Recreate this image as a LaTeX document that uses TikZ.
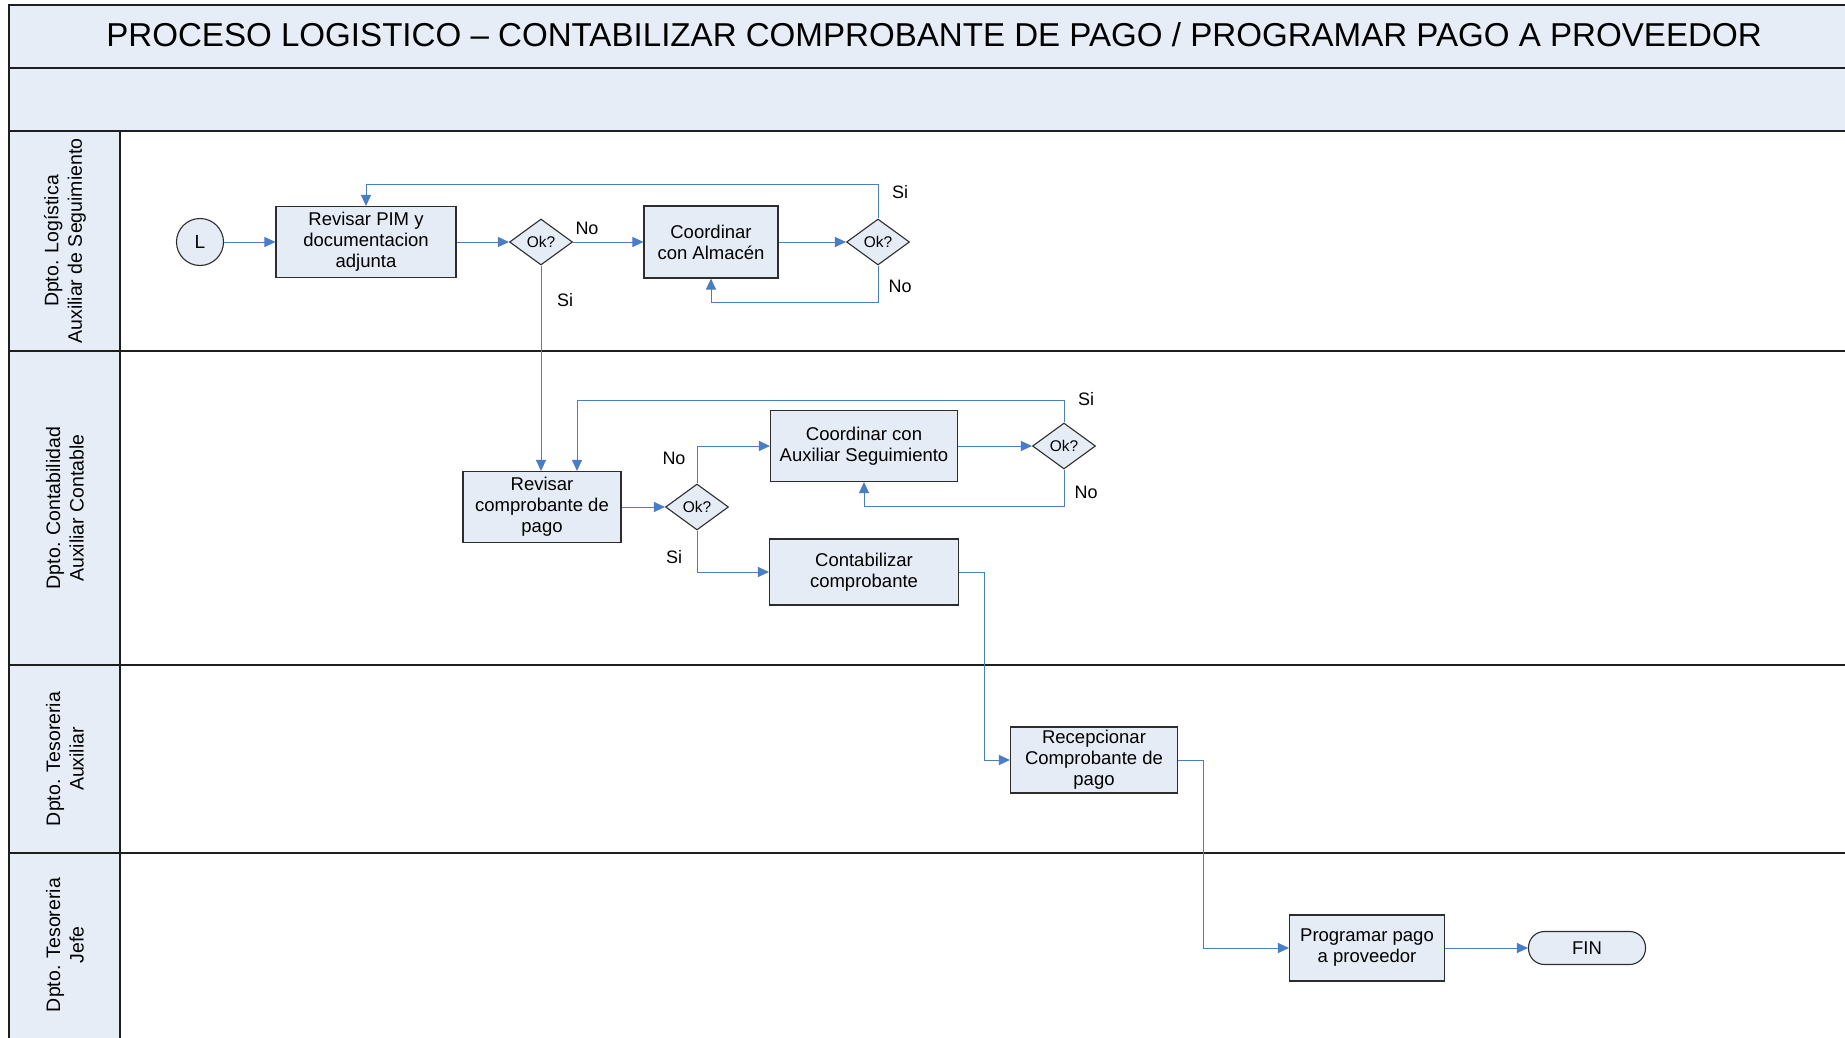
\documentclass[tikz,border=0pt]{standalone}
\usepackage{fontspec}
\setmainfont{Liberation Sans}
\usetikzlibrary{shapes.geometric,arrows.meta}

\definecolor{bandfill}{RGB}{230,237,247}
\definecolor{boxfill}{RGB}{230,236,246}
\definecolor{flowblue}{RGB}{74,126,196}
\definecolor{framegray}{RGB}{30,30,30}
\definecolor{boxline}{RGB}{45,45,45}

\tikzset{
  frameline/.style={draw=framegray, line width=1.4pt},
  stepbox/.style={rectangle, draw=boxline, line width=1.1pt, fill=boxfill,
    align=center, inner sep=2pt, font=\fontsize{18.5}{21}\selectfont},
  decision/.style={diamond, draw=boxline, line width=1.1pt, fill=boxfill,
    minimum width=63pt, minimum height=46pt, inner sep=0pt,
    font=\fontsize{15.5}{18}\selectfont},
  startcircle/.style={circle, draw=boxline, line width=1.1pt, fill=boxfill,
    minimum size=47pt, inner sep=0pt, font=\fontsize{19}{22}\selectfont},
  endcap/.style={rectangle, rounded corners=16pt, draw=boxline, line width=1.1pt,
    fill=boxfill, minimum width=117pt, minimum height=33pt, inner sep=0pt,
    font=\fontsize{18.5}{21}\selectfont},
  flow/.style={draw=flowblue, line width=1.0pt,
    -{Triangle[length=11pt,width=10pt]}},
  answer/.style={font=\fontsize{18}{21}\selectfont, inner sep=0pt},
  lanetitle/.style={rotate=90, align=center, inner sep=0pt,
    font=\fontsize{19.5}{23.5}\selectfont},
}

\begin{document}
\begin{tikzpicture}[x=1pt,y=-1pt]
\useasboundingbox (0,0) rectangle (1845,1038);

% header bands and lane title column
\fill[bandfill] (9,5) rectangle (1845,131);
\fill[bandfill] (9,131) rectangle (120,1038);
\draw[frameline] (1845,5) -- (9,5) -- (9,1038);
\foreach \yy in {68,131,351,665,853}
  \draw[frameline] (9,\yy) -- (1845,\yy);
\draw[frameline] (120,131) -- (120,1038);

\node[font=\fontsize{33.1}{38}\selectfont] (title) at (934,35)
  {PROCESO LOGISTICO – CONTABILIZAR COMPROBANTE DE PAGO / PROGRAMAR PAGO A PROVEEDOR};

% lane titles
\node[lanetitle] (lane1) at (65,241) {Dpto. Logística\\Auxiliar de Seguimiento};
\node[lanetitle] (lane2) at (65,508) {Dpto. Contabilidad\\Auxiliar Contable};
\node[lanetitle] (lane3) at (65,759) {Dpto. Tesoreria\\Auxiliar};
\node[lanetitle] (lane4) at (65,945) {Dpto. Tesoreria\\Jefe};

% lane 1: logistics
\node[startcircle] (start) at (200,242) {L};
\node[stepbox, minimum width=180pt, minimum height=71pt] (pim) at (366,242)
  {Revisar PIM y\\documentacion\\adjunta};
\node[decision] (d1) at (541,242) {Ok?};
\node[stepbox, minimum width=134pt, minimum height=72pt] (alm) at (711,242)
  {Coordinar\\con Almacén};
\node[decision] (d2) at (878,242) {Ok?};

% lane 2: accounting
\node[stepbox, minimum width=158pt, minimum height=71pt] (revc) at (542,507)
  {Revisar\\comprobante de\\pago};
\node[decision] (d3) at (697,507) {Ok?};
\node[stepbox, minimum width=187pt, minimum height=71pt] (cax) at (864,446)
  {Coordinar con\\Auxiliar Seguimiento};
\node[decision] (d4) at (1064,446) {Ok?};
\node[stepbox, minimum width=189pt, minimum height=66pt] (cont) at (864,572)
  {Contabilizar\\comprobante};

% lane 3: treasury assistant
\node[stepbox, minimum width=167pt, minimum height=66pt] (rec) at (1094,760)
  {Recepcionar\\Comprobante de\\pago};

% lane 4: treasury head
\node[stepbox, minimum width=155pt, minimum height=66pt] (prog) at (1367,948)
  {Programar pago\\a proveedor};
\node[endcap] (fin) at (1587,948) {FIN};

% routing levels for the loops and elbows
\coordinate (loopSiA) at (0,184);
\coordinate (loopNoA) at (0,302);
\coordinate (loopSiB) at (577,400);
\coordinate (loopNoB) at (0,506);
\coordinate (elbowA) at (984,0);
\coordinate (elbowB) at (1203,0);

% connectors, lane 1
\draw[flow] (start.east) -- (pim.west);
\draw[flow] (pim.east) -- (d1.west);
\draw[flow] (d1.east) -- (alm.west);
\draw[flow] (alm.east) -- (d2.west);
\draw[flow] (d2.north) -- (d2.north |- loopSiA) -- (pim.north |- loopSiA) -- (pim.north);
\draw[flow] (d2.south) -- (d2.south |- loopNoA) -- (alm.south |- loopNoA) -- (alm.south);
\draw[flow] (d1.south) -- (d1.south |- revc.north);

% connectors, lane 2
\draw[flow] (revc.east) -- (d3.west);
\draw[flow] (d3.north) |- (cax.west);
\draw[flow] (d3.south) |- (cont.west);
\draw[flow] (cax.east) -- (d4.west);
\draw[flow] (d4.north) -- (d4.north |- loopSiB) -- (loopSiB) -- (loopSiB |- revc.north);
\draw[flow] (d4.south) -- (d4.south |- loopNoB) -- (cax.south |- loopNoB) -- (cax.south);

% connectors, lanes 3 and 4
\draw[flow] (cont.east) -- (cont.east -| elbowA) -- (elbowA |- rec.west) -- (rec.west);
\draw[flow] (rec.east) -- (rec.east -| elbowB) -- (elbowB |- prog.west) -- (prog.west);
\draw[flow] (prog.east) -- (fin.west);

% branch labels
\node[answer] (noA) at (587,228) {No};
\node[answer] (siA) at (565,300) {Si};
\node[answer] (siB) at (900,192) {Si};
\node[answer] (noB) at (900,286) {No};
\node[answer] (noC) at (674,458) {No};
\node[answer] (siC) at (674,557) {Si};
\node[answer] (siD) at (1086,399) {Si};
\node[answer] (noD) at (1086,492) {No};
\end{tikzpicture}
\end{document}
